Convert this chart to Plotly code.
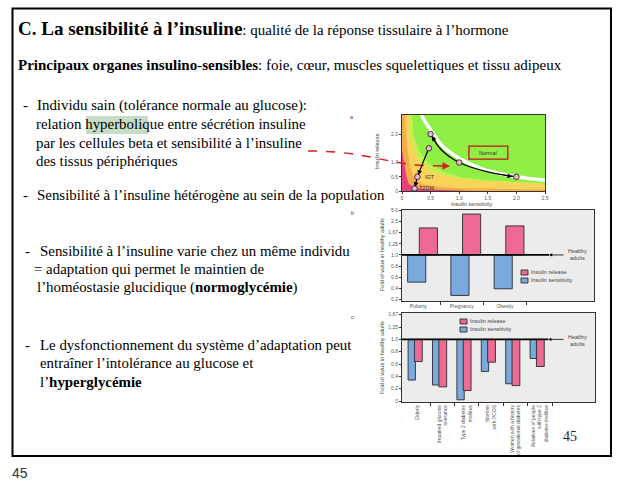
import plotly.graph_objects as go

W, H = 622, 499
def X(p): return p / W
def Y(p): return 1 - p / H

# ---------------- panel a data ----------------
a_curve_x = [0.34, 0.4, 0.5, 0.7, 1.0, 1.4, 2.0, 2.5]          # white hyperbola
a_curve_y = [2.67, 2.45, 2.15, 1.6, 1.15, 0.78, 0.5, 0.38]
a_path_x = [0.5, 0.7, 1.0, 1.5, 2.0]                            # black double arrow
a_path_y = [2.0, 1.42, 1.0, 0.67, 0.5]
a_pts_x = [0.5, 1.0, 2.0, 0.47, 0.27, 0.22]
a_pts_y = [2.0, 1.0, 0.5, 1.5, 0.5, 0.09]
a_green_x = [0.18, 0.2, 0.3, 0.45, 0.7, 1.0, 1.5, 2.0, 2.5, 2.5, 0.18]
a_green_y = [2.67, 2.0, 1.4, 1.0, 0.7, 0.5, 0.38, 0.32, 0.28, 2.67, 2.67]
a_lime_x = [0.12, 0.14, 0.21, 0.32, 0.5, 0.8, 1.2, 1.8, 2.5, 2.5, 0.12]
a_lime_y = [2.67, 2.0, 1.4, 1.0, 0.7, 0.5, 0.38, 0.3, 0.24, 2.67, 2.67]
a_orange_x = [0, 0.05, 0.07, 0.1, 0.14, 0.2, 0.35, 0.6, 1.0, 1.8, 2.5, 2.5, 0]
a_orange_y = [2.67, 2.67, 2.0, 1.4, 0.9, 0.5, 0.25, 0.15, 0.1, 0.07, 0.05, 0, 0]
a_pink_x = [0, 0.04, 0.08, 0.12, 0.2, 0.4, 0.8, 1.2, 1.2, 0]
a_pink_y = [1.4, 0.9, 0.5, 0.25, 0.12, 0.06, 0.03, 0.01, 0, 0]
a_xticks = [0, 0.5, 1.0, 1.5, 2.0, 2.5]
a_xticklabels = ["0", "0.5", "1.0", "1.5", "2.0", "2.5"]
a_yticks = [0, 0.5, 1.0, 2.0]
a_yticklabels = ["0", "0.5", "1.0", "2.0"]

# ---------------- panel b data ----------------
b_cats = ["Puberty", "Pregnancy", "Obesity"]
b_release = [1.95, 3.8, 2.1]
b_sensitivity = [0.51, 0.27, 0.39]
b_ticks = [0.2, 0.4, 0.6, 0.8, 1.0, 1.25, 1.67, 2.5, 5.0]
b_ticklabels = ["0.2", "0.4", "0.6", "0.8", "1.0", "1.25", "1.67", "2.5", "5.0"]

# ---------------- panel c data ----------------
c_cats = ["Elderly", "Impaired glucose<br>tolerance", "Type 2 diabetes<br>mellitus",
          "Women<br>with PCOS", "Women with a history<br>of gestational diabetes",
          "Relatives of people<br>with type 2<br>diabetes mellitus"]
c_release = [0.64, 0.23, 0.17, 0.63, 0.25, 0.56]
c_sensitivity = [0.34, 0.26, 0.02, 0.48, 0.28, 0.69]
c_ticks = [0, 0.2, 0.4, 0.6, 0.8, 1.0, 1.25, 1.67]
c_ticklabels = ["0", "0.2", "0.4", "0.6", "0.8", "1.0", "1.25", "1.67"]


def fold(v):
    """Symmetric fold-change scale used by the figure (1/x above 1)."""
    return (1 - 1 / v) / 0.2 if v >= 1 else (v - 1) / 0.2


PINK = "#ec6a94"
BLUE = "#7aaadc"
EDGE = "#2b2b33"

fig = go.Figure()

# panel a fills
for xs, ys, col in [(a_lime_x, a_lime_y, "#c6ee52"), (a_green_x, a_green_y, "#8fef44"),
                    (a_orange_x, a_orange_y, "#f5ad4c"), (a_pink_x, a_pink_y, "#e8407c")]:
    fig.add_trace(go.Scatter(x=xs, y=ys, fill="toself", fillcolor=col, mode="lines",
                             line=dict(width=0), hoverinfo="skip", showlegend=False,
                             xaxis="x", yaxis="y"))
fig.add_trace(go.Scatter(x=a_curve_x, y=a_curve_y, mode="lines", line=dict(color="white", width=3.5, shape="spline"),
                         showlegend=False, xaxis="x", yaxis="y"))
fig.add_trace(go.Scatter(x=a_path_x, y=a_path_y, mode="lines", line=dict(color="black", width=1.3, shape="spline"),
                         showlegend=False, xaxis="x", yaxis="y"))
fig.add_trace(go.Scatter(x=a_pts_x, y=a_pts_y, mode="markers",
                         marker=dict(size=5.5, color="#f4b6d2", line=dict(color="#222", width=0.9)),
                         showlegend=False, xaxis="x", yaxis="y"))

# panel b bars
fig.add_trace(go.Bar(x=list(range(len(b_cats))), y=[fold(v) for v in b_sensitivity], base=0,
                     offset=-0.25, width=0.42, marker=dict(color=BLUE, line=dict(color=EDGE, width=0.9)),
                     showlegend=False, xaxis="x2", yaxis="y2"))
fig.add_trace(go.Bar(x=list(range(len(b_cats))), y=[fold(v) for v in b_release], base=0,
                     offset=0.02, width=0.42, marker=dict(color=PINK, line=dict(color=EDGE, width=0.9)),
                     showlegend=False, xaxis="x2", yaxis="y2"))
# panel c bars
fig.add_trace(go.Bar(x=list(range(len(c_cats))), y=[fold(v) for v in c_sensitivity], base=0,
                     offset=-0.4, width=0.3, marker=dict(color=BLUE, line=dict(color=EDGE, width=0.9)),
                     showlegend=False, xaxis="x3", yaxis="y3"))
fig.add_trace(go.Bar(x=list(range(len(c_cats))), y=[fold(v) for v in c_release], base=0,
                     offset=-0.14, width=0.32, marker=dict(color=PINK, line=dict(color=EDGE, width=0.9)),
                     showlegend=False, xaxis="x3", yaxis="y3"))

tickf = dict(family="Liberation Sans", size=5, color="#555")
axbase = dict(showline=True, mirror=True, linecolor="#333", linewidth=1, ticks="outside", automargin=False,
              ticklen=2, tickcolor="#333", tickfont=tickf, showgrid=False, zeroline=False)

fig.update_layout(
    width=W, height=H, margin=dict(l=0, r=0, t=0, b=0, pad=0), autosize=False,
    paper_bgcolor="white", plot_bgcolor="#ececec", barmode="overlay", showlegend=False,
    xaxis=dict(axbase, anchor="y", domain=[X(402), X(545)], range=[0, 2.5], tickvals=a_xticks, ticktext=a_xticklabels),
    yaxis=dict(axbase, anchor="x", domain=[Y(191), Y(115)], range=[0, 2.67], tickvals=a_yticks, ticktext=a_yticklabels),
    xaxis2=dict(axbase, anchor="y2", domain=[X(402), X(594)], range=[-0.38, 4.06], tickvals=list(range(len(b_cats))),
                ticktext=b_cats, ticks="", minor=dict(tickvals=[0.5, 1.5, 2.5], ticks="outside", ticklen=3, tickcolor="#333")),
    yaxis2=dict(axbase, anchor="x2", domain=[Y(301), Y(210)], range=[-4.15, 4.05],
                tickvals=[fold(v) for v in b_ticks], ticktext=b_ticklabels),
    xaxis3=dict(axbase, anchor="y3", domain=[X(402), X(595)], range=[-0.65, 7.26], tickvals=list(range(len(c_cats))),
                ticktext=c_cats, ticks="", tickangle=-90,
                minor=dict(tickvals=[0.5, 1.5, 2.5, 3.5, 4.5, 5.5], ticks="outside", ticklen=3, tickcolor="#333")),
    yaxis3=dict(axbase, anchor="x3", domain=[Y(402), Y(313)], range=[-5.08, 2.14],
                tickvals=[fold(v) for v in c_ticks], ticktext=c_ticklabels),
)

shapes = []
# slide border
shapes.append(dict(type="rect", xref="paper", yref="paper", x0=X(12.5), x1=X(611), y0=Y(456), y1=Y(8.5),
                   line=dict(color="black", width=2)))
# highlight
shapes.append(dict(type="rect", xref="paper", yref="paper", x0=X(86), x1=X(148), y0=Y(134), y1=Y(116),
                   fillcolor="#c6dcc4", line=dict(width=0), layer="below"))
# panel a yellow base
shapes.append(dict(type="rect", xref="x", yref="y", x0=0, x1=2.5, y0=0, y1=2.67,
                   fillcolor="#fad35a", line=dict(width=0), layer="below"))
# Normal box
shapes.append(dict(type="rect", xref="x", yref="y", x0=1.17, x1=1.85, y0=1.12, y1=1.58,
                   line=dict(color="#c8101a", width=1.3)))
# baseline 1.0 lines
shapes.append(dict(type="line", xref="x2", yref="y2", x0=-0.38, x1=3.02, y0=0, y1=0,
                   line=dict(color="black", width=1.8)))
shapes.append(dict(type="line", xref="x3", yref="y3", x0=-0.65, x1=5.34, y0=0, y1=0,
                   line=dict(color="black", width=1.8)))
# red dashed curve
shapes.append(dict(type="path", xref="paper", yref="paper",
                   path="M %f,%f C %f,%f %f,%f %f,%f" % (X(308), Y(151), X(372), Y(151), X(385), Y(166), X(442), Y(166)),
                   line=dict(color="#d42020", width=1.5, dash="dash")))
# legend swatches
for (x0, y0, col) in [(521, 270, PINK), (521, 278, BLUE), (460, 319, PINK), (460, 327, BLUE)]:
    shapes.append(dict(type="rect", xref="paper", yref="paper", x0=X(x0), x1=X(x0 + 7), y0=Y(y0 + 5), y1=Y(y0),
                       fillcolor=col, line=dict(color=EDGE, width=0.9)))
fig.update_layout(shapes=shapes)

ann = []
SERIF = "Liberation Serif"
BODY = 14.9
def txt(s, x, y, size=BODY, **kw):
    ann.append(dict(text=s, x=X(x), y=Y(y), xref="paper", yref="paper", xanchor=kw.pop("xanchor", "left"),
                    yanchor=kw.pop("yanchor", "middle"), showarrow=False, borderpad=0,
                    font=dict(family=kw.pop("family", SERIF), size=size, color=kw.pop("color", "black")), **kw))

txt("<b>C. La sensibilité à l’insuline</b><span style='font-size:15px'>: qualité de la réponse tissulaire à l’hormone</span>",
    17, 28, size=19)
txt("<b>Principaux organes insulino-sensibles</b>: foie, cœur, muscles squelettiques et tissu adipeux", 17, 65, size=15)
txt("-", 22, 105); txt("Individu sain (tolérance normale au glucose):", 36, 105)
txt("relation hyperbolique entre sécrétion insuline", 35, 124)
txt("par les cellules beta et sensibilité à l’insuline", 35, 143)
txt("des tissus périphériques", 35, 161)
txt("-", 22, 195); txt("Sensibilité à l’insuline hétérogène au sein de la population", 36, 195)
txt("-", 24, 251); txt("Sensibilité à l’insuline varie chez un même individu", 39, 251)
txt("= adaptation qui permet le maintien de", 33, 269)
txt("l’homéostasie glucidique (<b>normoglycémie</b>)", 36, 287)
txt("-", 24, 345); txt("Le dysfonctionnement du système d’adaptation peut", 39, 345)
txt("entraîner l’intolérance au glucose et", 39, 363)
txt("l’<b>hyperglycémie</b>", 39, 382)
txt("45", 570, 436, size=14, xanchor="center", color="#1c2244")
txt("45", 11, 473, size=14, family="Liberation Sans", color="#333")

SMALL = dict(family="Liberation Sans", size=5.5, color="#444")
def small(s, x, y, **kw):
    ann.append(dict(text=s, x=X(x), y=Y(y), xref="paper", yref="paper", showarrow=False, borderpad=0,
                    xanchor=kw.pop("xanchor", "center"), yanchor="middle", font=kw.pop("font", SMALL), **kw))

small("a", 352, 117); small("b", 352, 213); small("c", 352, 317)
small("Insulin release", 377, 152, textangle=-90)
small("Insulin sensitivity", 472, 203.5)
small("Fold of value in healthy adults", 382, 255, textangle=-90)
small("Fold of value in healthy adults", 382, 358, textangle=-90)
small("Insulin release", 530, 272, xanchor="left"); small("Insulin sensitivity", 530, 280, xanchor="left")
small("Insulin release", 469, 321, xanchor="left"); small("Insulin sensitivity", 469, 329, xanchor="left")
small("Healthy<br>adults", 567, 255, xanchor="left")
small("Healthy<br>adults", 567, 340, xanchor="left")

# panel a labels
ann.append(dict(text="Normal", x=1.51, y=1.35, xref="x", yref="y", showarrow=False,
                font=dict(family="Liberation Sans", size=5.5, color="#333")))
ann.append(dict(text="IGT", x=0.36, y=0.5, xref="x", yref="y", showarrow=False, xanchor="left",
                font=dict(family="Liberation Sans", size=5.5, color="#333")))
ann.append(dict(text="T2DM", x=0.27, y=0.09, xref="x", yref="y", showarrow=False, xanchor="left",
                font=dict(family="Liberation Sans", size=5.5, color="#333")))

def arrow(x, y, ax, ay, xr, yr, color="black", width=1.2, head=2, size=0.8):
    ann.append(dict(x=x, y=y, ax=ax, ay=ay, xref=xr, yref=yr, axref=xr, ayref=yr, text="", showarrow=True,
                    arrowhead=head, arrowsize=size, arrowwidth=width, arrowcolor=color))

arrow(0.52, 1.93, 0.6, 1.68, "x", "y")
arrow(1.93, 0.51, 1.75, 0.56, "x", "y")
arrow(0.28, 0.56, 0.46, 1.47, "x", "y")
arrow(0.225, 0.14, 0.265, 0.46, "x", "y")
arrow(3.02, 0, 3.39, 0, "x2", "y2", width=0.8)
arrow(5.34, 0, 6.03, 0, "x3", "y3", width=0.8)
# red arrow head
ann.append(dict(x=X(450), y=Y(166), ax=-10, ay=0, xref="paper", yref="paper", text="", showarrow=True,
                arrowhead=2, arrowsize=1, arrowwidth=1.5, arrowcolor="#d42020"))

fig.update_layout(annotations=ann)
fig.write_html("out.html", config={"displayModeBar": False, "staticPlot": True},
               post_script="document.body.style.margin='0';document.body.style.overflow='hidden';")
